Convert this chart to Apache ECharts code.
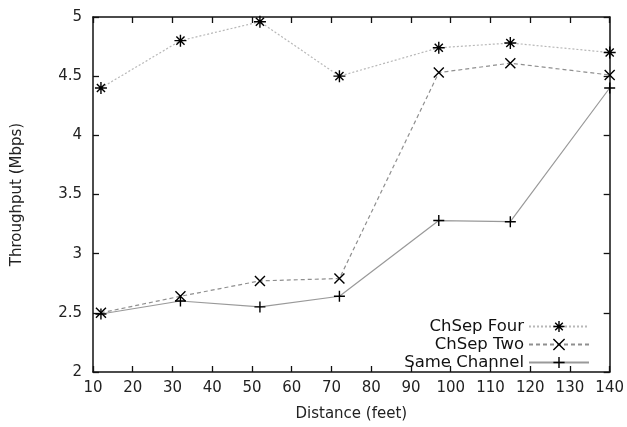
<!DOCTYPE html>
<html>
<head>
<meta charset="utf-8">
<script src="https://cdn.jsdelivr.net/npm/echarts@6/dist/echarts.min.js"></script>
<style>html,body{margin:0;padding:0;background:#fff;}#c{width:627px;height:427px;}</style>
</head>
<body>
<div id="c"></div>
<script>
const distances = [12, 32, 52, 72, 97, 115, 140];
const chSepFour = [4.40, 4.80, 4.96, 4.50, 4.74, 4.78, 4.70];
const chSepTwo = [2.50, 2.64, 2.77, 2.79, 4.53, 4.61, 4.51];
const sameChannel = [2.49, 2.60, 2.55, 2.64, 3.28, 3.27, 4.40];
const seriesNames = ['ChSep Four', 'ChSep Two', 'Same Channel'];
const xTitle = 'Distance (feet)';
const yTitle = 'Throughput (Mbps)';

const FONT = 'DejaVu Sans';
const SYM_STAR = 'path://M5,0L5,10M0,5L10,5M1.6,1.6L8.4,8.4M8.4,1.6L1.6,8.4';
const SYM_X = 'path://M0,0L10,10M10,0L0,10';
const SYM_PLUS = 'path://M5,0L5,10M0,5L10,5';

function pairs(ys){ return distances.map((x,i)=>[x, ys[i]]); }
function mkSeries(name, ys, sym, size, lc, lt){
  return {
    name: name, type: 'line', data: pairs(ys),
    symbol: sym, symbolSize: size, showSymbol: true,
    itemStyle: {color: '#000', borderColor: '#000', borderWidth: 1.4},
    lineStyle: {color: lc, width: 1.2, type: lt},
    emphasis: {disabled: true}, clip: false, z: 3
  };
}
const axisLine = {show: true, lineStyle: {color: '#111', width: 1.5}};
const tick = {show: true, inside: true, length: 6, lineStyle: {color: '#111', width: 1.3}};
const chart = echarts.init(document.getElementById('c'), null, {renderer: 'canvas'});
chart.setOption({
  backgroundColor: '#fff',
  animation: false,
  grid: {left: 93, right: 17, top: 17, bottom: 52, containLabel: false},
  xAxis: [{
    type: 'value', min: 10, max: 140, interval: 10, position: 'bottom',
    name: xTitle, nameLocation: 'middle', nameGap: 35,
    nameTextStyle: {fontFamily: FONT, fontSize: 15, color: '#222'},
    axisLine: axisLine, axisTick: tick, splitLine: {show: false},
    axisLabel: {fontFamily: FONT, fontSize: 15, color: '#222', margin: 9}
  }, {
    type: 'value', min: 10, max: 140, interval: 10, position: 'top',
    axisLine: axisLine, axisTick: tick, splitLine: {show: false},
    axisLabel: {show: false}
  }],
  yAxis: [{
    type: 'value', min: 2, max: 5, interval: 0.5, position: 'left',
    name: yTitle, nameLocation: 'middle', nameGap: 68, nameRotate: 90,
    nameTextStyle: {fontFamily: FONT, fontSize: 15, color: '#222'},
    axisLine: axisLine, axisTick: tick, splitLine: {show: false},
    axisLabel: {fontFamily: FONT, fontSize: 15, color: '#222', margin: 11}
  }, {
    type: 'value', min: 2, max: 5, interval: 0.5, position: 'right',
    axisLine: axisLine, axisTick: tick, splitLine: {show: false},
    axisLabel: {show: false}
  }],
  legend: {
    orient: 'vertical', align: 'right', right: 37, top: 318, padding: 0,
    itemWidth: 60, itemHeight: 14, itemGap: 1,
    data: seriesNames,
    textStyle: {fontFamily: FONT, fontSize: 16.5, color: '#111', lineHeight: 14},
    itemStyle: {borderColor: '#000', borderWidth: 1.4}
  },
  series: [
    mkSeries(seriesNames[0], chSepFour, SYM_STAR, 12, '#b8b8b8', [2, 2]),
    mkSeries(seriesNames[1], chSepTwo, SYM_X, 10, '#8f8f8f', [4, 3]),
    mkSeries(seriesNames[2], sameChannel, SYM_PLUS, 11, '#999', 'solid')
  ]
});
</script>
</body>
</html>
